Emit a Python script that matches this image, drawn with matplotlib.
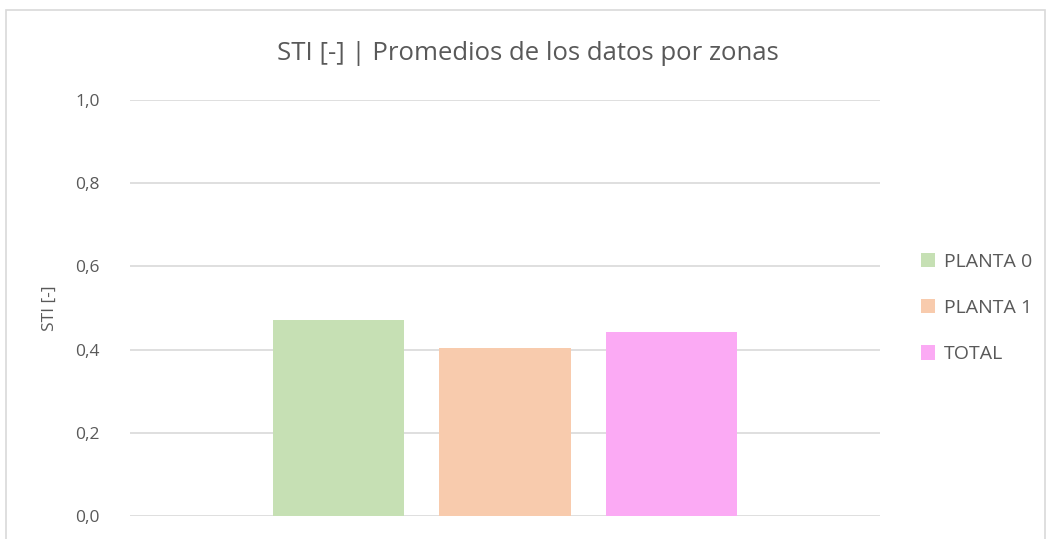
import numpy as np
import matplotlib
matplotlib.use('Agg')
import matplotlib.pyplot as plt
from matplotlib.patches import Rectangle
from matplotlib.ticker import FuncFormatter

# datos
series = ['PLANTA 0', 'PLANTA 1', 'TOTAL']
valores = [0.471, 0.404, 0.442]
colores = ['#c6e0b4', '#f8cbad', '#fbaaf4']

plt.rcParams['font.family'] = ['Open Sans', 'DejaVu Sans']
gris = '#595959'

fig = plt.figure(figsize=(10.51, 5.39), dpi=100)
ax = fig.add_axes([130/1051, 23/539, 750/1051, 416/539])

# marco del grafico
fig.patches.append(Rectangle((6/1051, -0.05), 1039/1051, 1.05 - 10/539,
                             transform=fig.transFigure, fill=False,
                             edgecolor='#d9d9d9', linewidth=1.2))

pos = np.arange(len(series)) - 1
for i in range(len(series)):
    ax.bar(pos[i], valores[i], width=0.787, color=colores[i], label=series[i], zorder=3)

ax.set_xlim(-2.252, 2.252)
ax.set_ylim(0, 1.0)
ax.set_yticks(np.arange(0, 1.01, 0.2))
ax.yaxis.set_major_formatter(FuncFormatter(lambda v, p: ('%.1f' % v).replace('.', ',')))
ax.set_xticks([])
ax.grid(axis='y', color='#d9d9d9', linewidth=1.2, zorder=0)
for s in ax.spines.values():
    s.set_visible(False)
ax.tick_params(axis='y', length=0, pad=22, labelsize=12.5, labelcolor=gris)
ax.set_ylabel('STI [-]', fontsize=12.5, color=gris, labelpad=12)

fig.text(528/1051, 1 - 53/539, 'STI [-] | Promedios de los datos por zonas',
         ha='center', va='center', fontsize=18.5, color=gris)

ax.legend(loc='center left', bbox_to_anchor=(903/1051, 1 - 308/539),
          bbox_transform=fig.transFigure, frameon=False, fontsize=14,
          labelcolor=gris, handlelength=0.75, handleheight=0.75,
          labelspacing=1.45, handletextpad=0.45)

fig.savefig('out.png', dpi=100)
